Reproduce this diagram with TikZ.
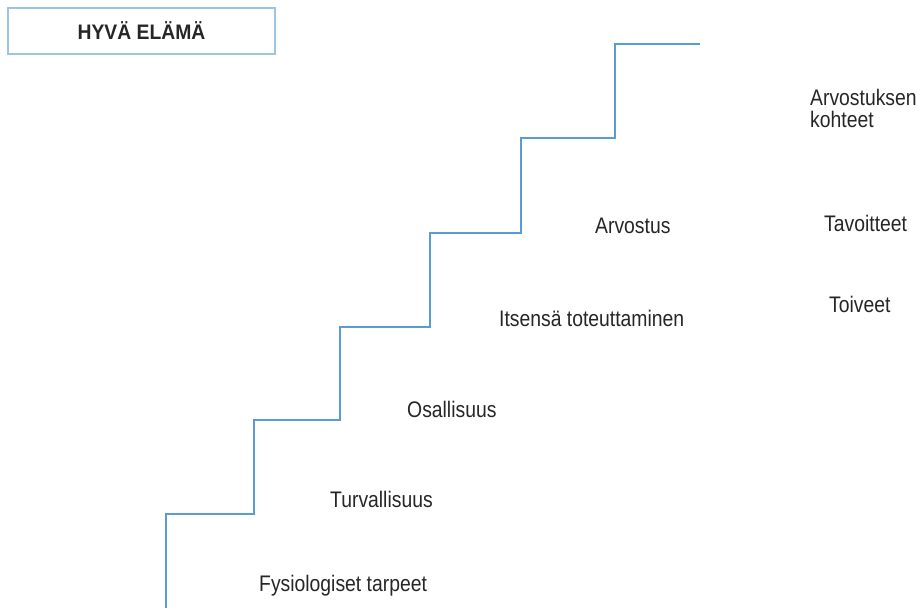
\documentclass[tikz,border=0pt]{standalone}
\usepackage{fontspec}
\setmainfont{Liberation Sans}[FakeStretch=0.86]
\newfontfamily\headfont{Liberation Sans}[FakeStretch=0.92]
\definecolor{stairblue}{HTML}{5B9BD5}
\definecolor{boxblue}{HTML}{9DC3E6}
\definecolor{textgray}{HTML}{262626}
\begin{document}
\begin{tikzpicture}[x=1pt,y=-1pt,
  label/.style={anchor=base west,inner sep=0pt,text=textgray,
    font=\fontsize{22.5}{21.6}\selectfont},
  stairline/.style={draw=stairblue,line width=1.3pt,line join=miter},
  titlebox/.style={draw=boxblue,line width=1.6pt,fill=white,
    minimum width=267pt,minimum height=46pt,inner sep=0pt,text=textgray,
    font=\headfont\bfseries\fontsize{21}{24}\selectfont}]
  \useasboundingbox (0,0) rectangle (922,608);

  % title
  \node[titlebox] (title) at (141.5,31) {HYVÄ ELÄMÄ};

  % the staircase
  \coordinate (s0) at (166,608);
  \coordinate (s1) at (700,44);
  \draw[stairline] (s0) |- (254,514) |- (340,420) |- (430,327)
    |- (521,233) |- (615,138) |- (s1);

  % steps
  \node[label] (fys) at (259,591) {Fysiologiset tarpeet};
  \node[label] (tur) at (330,507) {Turvallisuus};
  \node[label] (osa) at (407,417) {Osallisuus};
  \node[label] (its) at (499,326) {Itsensä toteuttaminen};
  \node[label] (arv) at (595,233) {Arvostus};

  % right column (base anchor sits on the last line)
  \node[label,align=left] (koh) at (810,127.3) {Arvostuksen\\kohteet};
  \node[label] (tav) at (824,231) {Tavoitteet};
  \node[label] (toi) at (829,312) {Toiveet};
\end{tikzpicture}
\end{document}
